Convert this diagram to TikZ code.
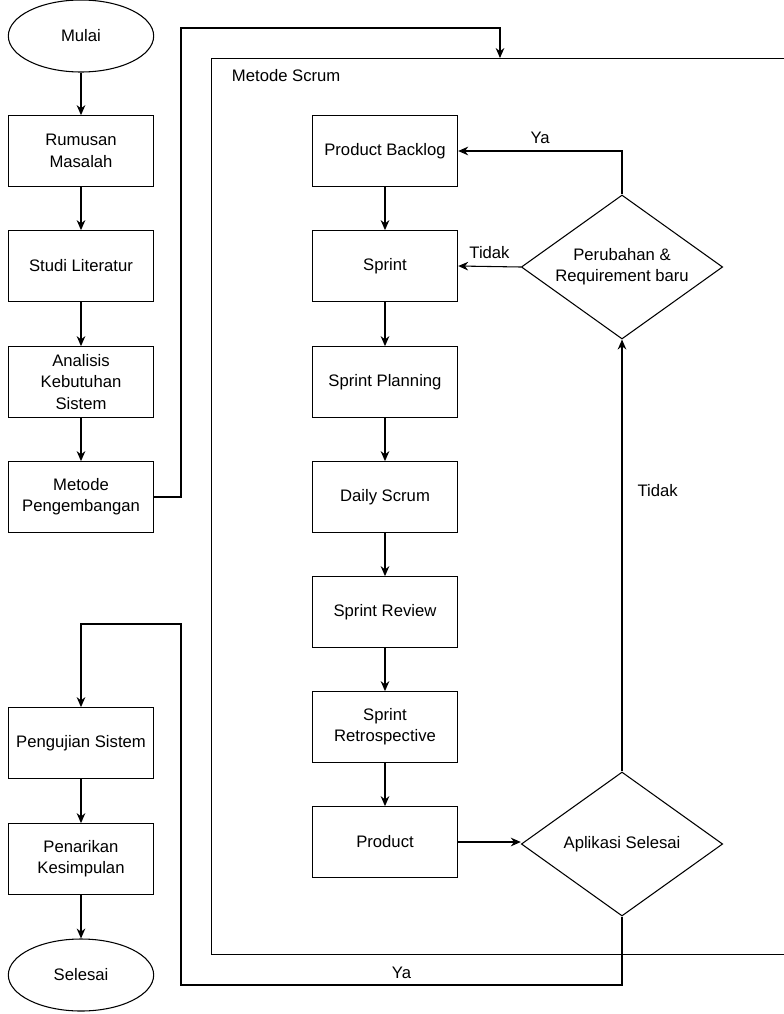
\documentclass[tikz,border=0pt]{standalone}
\usepackage{fontspec}
\setmainfont{Liberation Sans}
\usetikzlibrary{arrows.meta,positioning,shapes.geometric}

\begin{document}
\begin{tikzpicture}[x=0.75pt,y=-0.75pt,
  line width=0.8pt,
  teks/.style={font=\fontsize{12.5}{16}\selectfont},
  proses/.style={draw,teks,align=center,minimum width=109pt,minimum height=53pt,inner sep=1pt},
  terminal/.style={draw,ellipse,teks,minimum width=109pt,minimum height=54pt,inner sep=1pt},
  keputusan/.style={draw,diamond,aspect=1.4,teks,align=center,minimum width=151pt,minimum height=108pt,inner sep=0pt},
  panah/.style={-{Stealth[length=7.5pt,width=6.5pt]}}]
  \useasboundingbox (0,0) rectangle (784,1014);
  \clip (0,0) rectangle (784,1014);
  % Alur penelitian (kiri)
  \node[terminal] (mulai) at (81,36) {Mulai};
  \node[proses] (rumusan) at (81,151) {Rumusan\\Masalah};
  \node[proses] (studi) at (81,266) {Studi Literatur};
  \node[proses] (analisis) at (81,382) {Analisis\\Kebutuhan\\Sistem};
  \node[proses] (metode) at (81,497) {Metode\\Pengembangan};
  \node[proses] (pengujian) at (81,743) {Pengujian Sistem};
  \node[proses] (penarikan) at (81,859) {Penarikan\\Kesimpulan};
  \node[terminal] (selesai) at (81,975) {Selesai};
  % Wadah metode scrum
  \node[draw,anchor=north west,minimum width=450pt,minimum height=672pt,inner sep=0pt] (scrum) at (211,58) {};
  \node[teks,anchor=west] (judul) at (227,76) {Metode Scrum};
  % Tahapan scrum
  \node[proses] (backlog) at (385,151) {Product Backlog};
  \node[proses] (sprint) at (385,266) {Sprint};
  \node[proses] (planning) at (385,382) {Sprint Planning};
  \node[proses] (daily) at (385,497) {Daily Scrum};
  \node[proses] (review) at (385,612) {Sprint Review};
  \node[proses] (retro) at (385,727) {Sprint\\Retrospective};
  \node[proses] (product) at (385,842) {Product};
  \node[keputusan] (perubahan) at (622,267) {Perubahan \&\\Requirement baru};
  \node[keputusan] (aplikasi) at (622,844) {Aplikasi Selesai};
  % Titik belok
  \coordinate (masuk) at (500,58);
  \coordinate (belokatas) at (181,28);
  \coordinate (belokbawah) at (181,985);
  \coordinate (belokkiri) at (181,624);
  % Panah alur kiri
  \draw[panah] (mulai) -- (rumusan);
  \draw[panah] (rumusan) -- (studi);
  \draw[panah] (studi) -- (analisis);
  \draw[panah] (analisis) -- (metode);
  \draw[panah] (metode.east) -| (belokatas) -| (masuk);
  \draw[panah] (pengujian) -- (penarikan);
  \draw[panah] (penarikan) -- (selesai);
  % Panah scrum
  \draw[panah] (backlog) -- (sprint);
  \draw[panah] (sprint) -- (planning);
  \draw[panah] (planning) -- (daily);
  \draw[panah] (daily) -- (review);
  \draw[panah] (review) -- (retro);
  \draw[panah] (retro) -- (product);
  \draw[panah] (product) -- (product -| aplikasi.west);
  \draw[panah] (aplikasi.north) -- (perubahan.south) node[teks,pos=0.65,right=8pt] {Tidak};
  \draw[panah] (perubahan.north) |- (backlog.east) node[teks,pos=0.75,above=2pt] {Ya};
  \draw[panah] (perubahan.west) -- (sprint.east) node[teks,midway,above=2pt] {Tidak};
  \draw[panah] (aplikasi.south) |- (belokbawah) node[teks,pos=0.75,above=1pt] {Ya} -- (belokkiri) -| (pengujian.north);
\end{tikzpicture}
\end{document}
